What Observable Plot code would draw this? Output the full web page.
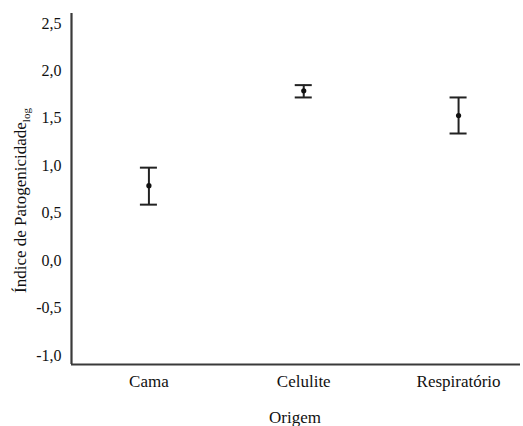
<!DOCTYPE html>
<html>
<head>
<meta charset="utf-8">
<script src="https://cdn.jsdelivr.net/npm/d3@7"></script>
<script src="https://cdn.jsdelivr.net/npm/@observablehq/plot@0.6"></script>
<style>
  html, body { margin: 0; padding: 0; background: #fff; }
  svg { display: block; background: #fff; }
  #xtitle {
    width: 523px; height: 26px; box-sizing: border-box; padding: 8px 0 0 0;
    font-family: "Liberation Serif"; font-size: 17px; line-height: 20px;
    color: #111; position: relative;
  }
  #xtitle span { position: absolute; left: 295px; transform: translateX(-50%); white-space: nowrap; }
</style>
</head>
<body>
<div id="chart"></div>
<div id="xtitle"><span id="xtitle-text"></span></div>
<script>
const categories = ["Cama", "Celulite", "Respiratório"];
const means = [0.79, 1.79, 1.53];
const lower = [0.59, 1.72, 1.34];
const upper = [0.98, 1.85, 1.72];
const yTicks = [-1.0, -0.5, 0.0, 0.5, 1.0, 1.5, 2.0, 2.5];
const xTitle = "Origem";
const yTitle = "Índice de Patogenicidade";
const ySub = "log";

const data = categories.map((c, i) => ({i, cat: c, mean: means[i], lo: lower[i], hi: upper[i]}));
const capHalf = 0.055;
const font = "Liberation Serif";

const chart = Plot.plot({
  width: 523,
  height: 400,
  marginLeft: 71,
  marginRight: 3,
  marginTop: 13,
  marginBottom: 36,
  x: {domain: [-0.5, 2.4]},
  y: {domain: [-1.095, 2.605]},
  marks: [
    Plot.axisY({ticks: yTicks, tickFormat: d => d.toFixed(1).replace(".", ","), tickSize: 0, tickPadding: 10, label: null, fontSize: 16, fill: "#111"}),
    Plot.axisX({ticks: [0, 1, 2], tickFormat: i => categories[i], tickSize: 0, tickPadding: 10, label: null, fontSize: 17, fill: "#111"}),
    Plot.ruleX(data, {x: "i", y1: "lo", y2: "hi", stroke: "#222", strokeWidth: 2}),
    Plot.ruleY(data, {y: "hi", x1: d => d.i - capHalf, x2: d => d.i + capHalf, stroke: "#222", strokeWidth: 2}),
    Plot.ruleY(data, {y: "lo", x1: d => d.i - capHalf, x2: d => d.i + capHalf, stroke: "#222", strokeWidth: 2}),
    Plot.dot(data, {x: "i", y: "mean", r: 2.6, fill: "#111", stroke: "none"}),
    Plot.ruleX([-0.5], {stroke: "#3a3a3a", strokeWidth: 2.2}),
    Plot.ruleY([-1.095], {stroke: "#3a3a3a", strokeWidth: 2.2})
  ]
});

const svg = d3.select(chart);
svg.attr("font-family", font);
svg.selectAll("g").filter(function() { return this.hasAttribute("font-family"); }).attr("font-family", font);
svg.selectAll("text").attr("font-family", font);

const yt = svg.append("text")
  .attr("transform", "translate(26,293) rotate(-90)")
  .attr("text-anchor", "start")
  .attr("font-family", font)
  .attr("font-size", 17)
  .attr("fill", "#111");
yt.append("tspan").text(yTitle);
yt.append("tspan").attr("dy", 4).attr("font-size", 11).text(ySub);

document.getElementById("chart").appendChild(chart);
document.getElementById("xtitle-text").textContent = xTitle;
</script>
</body>
</html>
